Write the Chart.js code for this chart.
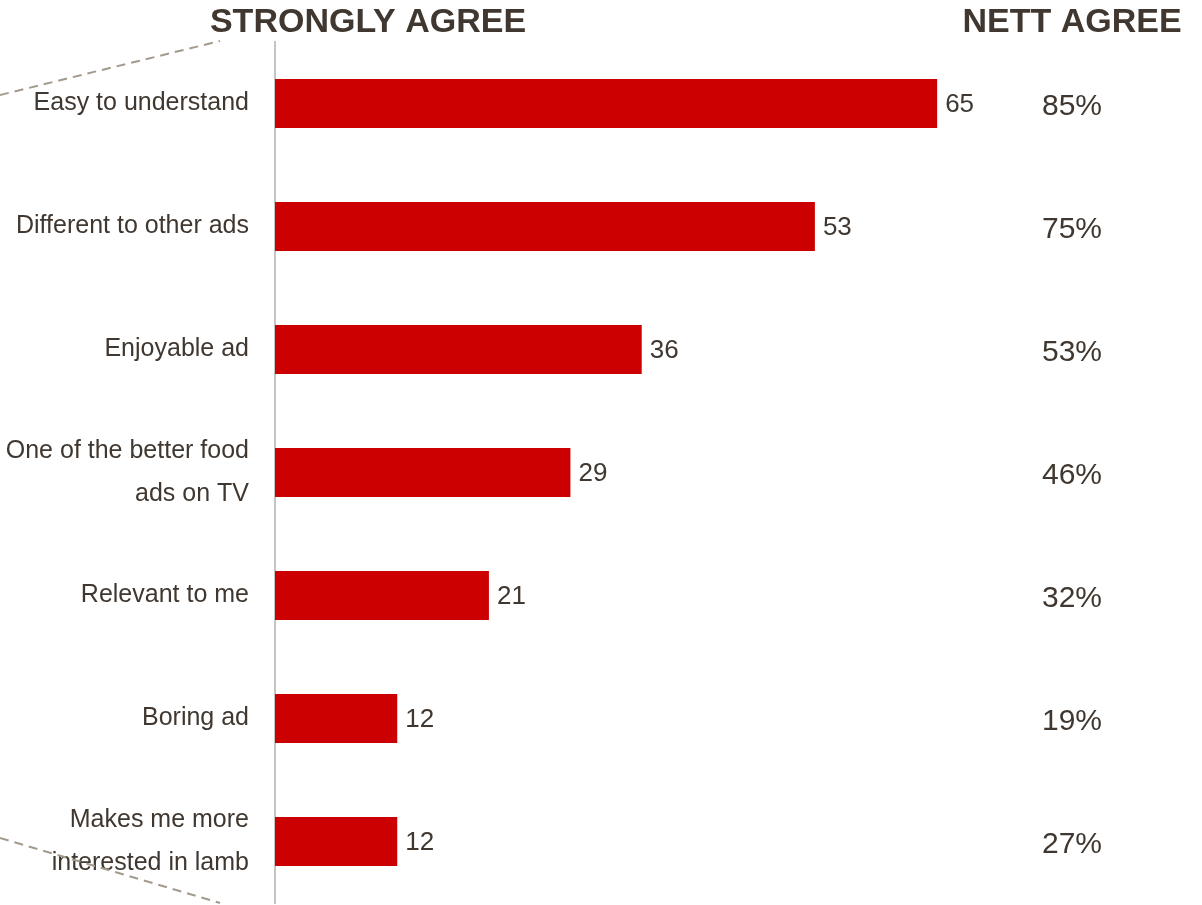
<!DOCTYPE html>
<html>
<head>
<meta charset="utf-8">
<script src="https://cdn.jsdelivr.net/npm/chart.js@4.4.1/dist/chart.umd.min.js"></script>
<style>
  html, body { margin: 0; padding: 0; background: #fff; }
  #wrap { width: 1202px; height: 905px; position: relative; }
</style>
</head>
<body>
<div id="wrap"><canvas id="c"></canvas></div>
<script>
// data
var categories = [
  'Easy to understand',
  'Different to other ads',
  'Enjoyable ad',
  ['One of the better food', 'ads on TV'],
  'Relevant to me',
  'Boring ad',
  ['Makes me more', 'interested in lamb']
];
var stronglyAgree = [65, 53, 36, 29, 21, 12, 12];
var nettAgree = [85, 75, 53, 46, 32, 19, 27];

var TEXT = '#403830';
var RED = '#cc0000';
var NARROW = '"Liberation Sans Narrow", "Arial Narrow", Arial, sans-serif';
var SANS = 'Arial, "Liberation Sans", sans-serif';

var extras = {
  id: 'extras',
  afterDatasetsDraw: function (chart) {
    var ctx = chart.ctx;
    var y = chart.scales.y;
    var meta = chart.getDatasetMeta(0);
    ctx.save();

    // value labels at bar ends
    ctx.fillStyle = TEXT;
    ctx.font = '26px ' + SANS;
    ctx.textAlign = 'left';
    ctx.textBaseline = 'middle';
    meta.data.forEach(function (bar, i) {
      ctx.fillText(String(stronglyAgree[i]), bar.x + 8, bar.y + 1);
    });

    // nett agree column
    ctx.textAlign = 'center';
    ctx.font = '30px ' + SANS;
    nettAgree.forEach(function (v, i) {
      ctx.fillText(v + '%', 1072, y.getPixelForValue(i) + 3);
    });

    // headers
    ctx.font = 'bold 34px ' + SANS;
    ctx.fillText('STRONGLY AGREE', 368, 23);
    ctx.fillText('NETT AGREE', 1072, 23);

    // dashed callout lines
    ctx.strokeStyle = '#a39a8e';
    ctx.lineWidth = 2;
    ctx.setLineDash([9, 6]);
    ctx.beginPath();
    ctx.moveTo(0, 95);
    ctx.lineTo(220, 41);
    ctx.moveTo(0, 838);
    ctx.lineTo(220, 903);
    ctx.stroke();
    ctx.restore();
  }
};

new Chart(document.getElementById('c'), {
  type: 'bar',
  data: {
    labels: categories,
    datasets: [{
      data: stronglyAgree,
      backgroundColor: RED,
      borderWidth: 0,
      barPercentage: 0.8,
      categoryPercentage: 0.5
    }]
  },
  options: {
    indexAxis: 'y',
    responsive: true,
    maintainAspectRatio: false,
    animation: false,
    layout: { padding: { top: 42, bottom: 2, left: 0, right: 0 } },
    plugins: {
      legend: { display: false },
      tooltip: { enabled: false }
    },
    scales: {
      x: {
        display: false,
        min: 0,
        max: 91
      },
      y: {
        grid: { display: false, drawTicks: false },
        border: { display: true, color: '#c4c4c4', width: 2 },
        afterFit: function (s) {
          s.width = 275;
          s.paddingTop = 0;
          s.paddingBottom = 0;
        },
        ticks: {
          color: TEXT,
          padding: 26,
          font: { family: NARROW, size: 25, lineHeight: 1.7 }
        }
      }
    }
  },
  plugins: [extras]
});
</script>
</body>
</html>
